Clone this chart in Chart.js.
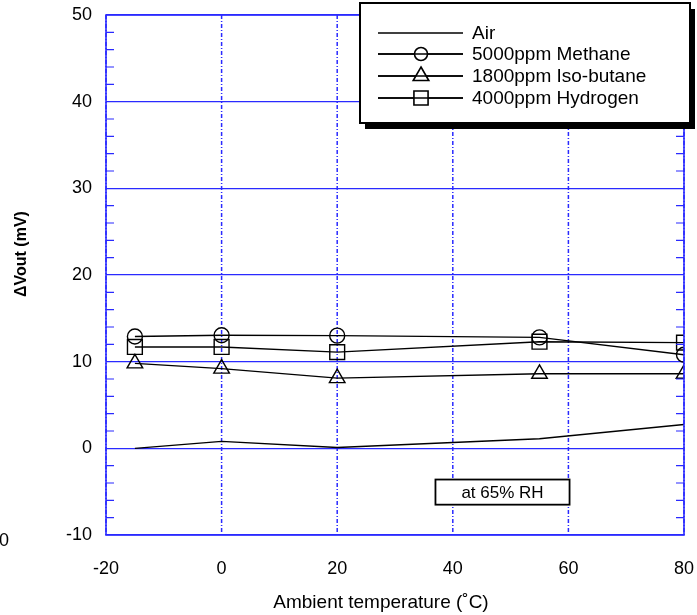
<!DOCTYPE html>
<html>
<head>
<meta charset="utf-8">
<script src="https://cdn.jsdelivr.net/npm/chart.js@4.4.1/dist/chart.umd.min.js"></script>
<style>
  body { margin: 0; background: #fff; }
  #wrap { width: 697px; height: 615px; }
</style>
</head>
<body>
<div id="wrap"><canvas id="myChart" width="697" height="615"></canvas></div>
<script>
// temperatures (deg C) where the readings were taken
var temps = [-15, 0, 20, 55, 80];

// delta Vout in mV
var air       = [0, 0.8, 0.1, 1.1, 2.75];
var methane   = [12.9, 13.05, 13.0, 12.8, 10.8];
var isobutane = [9.8, 9.2, 8.1, 8.6, 8.6];
var hydrogen  = [11.7, 11.7, 11.1, 12.3, 12.2];

var seriesNames = ['Air', '5000ppm Methane', '1800ppm Iso-butane', '4000ppm Hydrogen'];
var xTicks = [-20, 0, 20, 40, 60, 80];
var yTicks = [-10, 0, 10, 20, 30, 40, 50];

var blue = '#2a2aff';
var font = 'Liberation Sans, Arial, sans-serif';

function pts(vals) {
    return vals.map(function (v, i) { return { x: temps[i], y: v }; });
}

function lineSet(label, vals, style, r) {
    return {
        label: label,
        data: pts(vals),
        borderColor: '#000',
        borderWidth: 1.4,
        pointStyle: style,
        pointRadius: r,
        pointHoverRadius: r,
        pointBorderColor: '#000',
        pointBorderWidth: 1.4,
        pointBackgroundColor: 'rgba(0,0,0,0)',
        tension: 0
    };
}

var datasets = [
    lineSet(seriesNames[0], air, 'circle', 0),
    lineSet(seriesNames[1], methane, 'circle', 7.5),
    lineSet(seriesNames[2], isobutane, 'triangle', 9),
    lineSet(seriesNames[3], hydrogen, 'rect', 10.5)
];

// vertical dash-dot grid lines, drawn under the data
var vgrid = {
    id: 'vgrid',
    beforeDatasetsDraw: function (chart) {
        var ctx = chart.ctx, a = chart.chartArea, xs = chart.scales.x;
        ctx.save();
        ctx.strokeStyle = blue;
        ctx.lineWidth = 1.5;
        ctx.setLineDash([4, 2, 1, 2]);
        xTicks.forEach(function (t) {
            var px = xs.getPixelForValue(t);
            ctx.beginPath();
            ctx.moveTo(px, a.top);
            ctx.lineTo(px, a.bottom);
            ctx.stroke();
        });
        ctx.restore();
    }
};

// frame, minor ticks, titles, legend box and note
var extras = {
    id: 'extras',
    afterDraw: function (chart) {
        var ctx = chart.ctx;
        var a = chart.chartArea;
        var xs = chart.scales.x, ys = chart.scales.y;
        ctx.save();

        // blue frame round the plot
        ctx.strokeStyle = blue;
        ctx.lineWidth = 1.6;
        ctx.strokeRect(a.left, a.top, a.right - a.left, a.bottom - a.top);

        // minor ticks every 2 mV on both sides
        ctx.lineWidth = 1.2;
        for (var v = -10; v <= 50; v += 2) {
            if (v % 10 === 0) continue;
            var py = ys.getPixelForValue(v);
            ctx.beginPath();
            ctx.moveTo(a.left, py); ctx.lineTo(a.left + 8, py);
            ctx.moveTo(a.right, py); ctx.lineTo(a.right - 8, py);
            ctx.stroke();
        }

        // axis titles
        ctx.fillStyle = '#000';
        ctx.font = '19px ' + font;
        ctx.textAlign = 'center';
        ctx.textBaseline = 'middle';
        ctx.fillText('Ambient temperature (\u02DAC)', 381, 603);

        ctx.save();
        ctx.translate(22, 254);
        ctx.rotate(-Math.PI / 2);
        ctx.font = 'bold 16px ' + font;
        ctx.fillText('\u0394Vout (mV)', 0, 0);
        ctx.restore();

        // stray label at far left
        ctx.font = '18px ' + font;
        ctx.textAlign = 'right';
        ctx.fillText('0', 9, 541);

        // note box
        var bx1 = xs.getPixelForValue(37), bx2 = xs.getPixelForValue(60.2);
        var by1 = ys.getPixelForValue(-3.6), by2 = ys.getPixelForValue(-6.5);
        ctx.fillStyle = '#fff';
        ctx.fillRect(bx1, by1, bx2 - bx1, by2 - by1);
        ctx.strokeStyle = '#000';
        ctx.lineWidth = 1.8;
        ctx.strokeRect(bx1, by1, bx2 - bx1, by2 - by1);
        ctx.fillStyle = '#000';
        ctx.font = '17px ' + font;
        ctx.textAlign = 'center';
        ctx.fillText('at 65% RH', (bx1 + bx2) / 2, (by1 + by2) / 2 + 1);

        // legend with drop shadow
        var lx = 360, ly = 3, lw = 330, lh = 120;
        ctx.fillStyle = '#000';
        ctx.fillRect(lx + 5, ly + 6, lw, lh);
        ctx.fillStyle = '#fff';
        ctx.fillRect(lx, ly, lw, lh);
        ctx.lineWidth = 2;
        ctx.strokeRect(lx, ly, lw, lh);

        var rows = [33, 54, 76, 98];
        var legendRadius = { circle: 6.5, triangle: 9, rect: 10 };
        ctx.font = '19px ' + font;
        ctx.textAlign = 'left';
        for (var i = 0; i < datasets.length; i++) {
            var d = datasets[i];
            ctx.strokeStyle = '#000';
            ctx.lineWidth = 1.6;
            ctx.beginPath();
            ctx.moveTo(378, rows[i]); ctx.lineTo(463, rows[i]);
            ctx.stroke();
            if (d.pointRadius > 0) {
                ctx.fillStyle = '#fff';
                Chart.helpers.drawPoint(ctx, {
                    pointStyle: d.pointStyle,
                    radius: legendRadius[d.pointStyle],
                    borderWidth: 1.6
                }, 421, rows[i]);
                ctx.beginPath();
                ctx.moveTo(378, rows[i]); ctx.lineTo(463, rows[i]);
                ctx.stroke();
            }
            ctx.fillStyle = '#000';
            ctx.fillText(d.label, 472, rows[i] + 1);
        }
        ctx.restore();
    }
};

var ctx = document.getElementById('myChart').getContext('2d');
var myChart = new Chart(ctx, {
    type: 'line',
    data: { datasets: datasets },
    options: {
        responsive: false,
        animation: false,
        events: [],
        layout: { padding: { left: 0, top: 15, right: 13, bottom: 0 } },
        plugins: { legend: { display: false }, tooltip: { enabled: false } },
        scales: {
            x: {
                type: 'linear',
                min: -20, max: 80,
                afterFit: function (s) { s.height = 80; s.paddingLeft = 0; s.paddingRight = 0; },
                afterBuildTicks: function (s) { s.ticks = xTicks.map(function (v) { return { value: v }; }); },
                ticks: { color: '#000', padding: 15, font: { family: font, size: 18 } },
                grid: { display: false },
                border: { display: false }
            },
            y: {
                min: -10, max: 50,
                afterFit: function (s) { s.width = 106; s.paddingTop = 0; s.paddingBottom = 0; },
                afterBuildTicks: function (s) { s.ticks = yTicks.map(function (v) { return { value: v }; }); },
                ticks: { color: '#000', padding: 14, font: { family: font, size: 18 } },
                grid: { color: blue, lineWidth: 1.2, drawTicks: false },
                border: { display: false }
            }
        }
    },
    plugins: [vgrid, extras]
});
</script>
</body>
</html>
